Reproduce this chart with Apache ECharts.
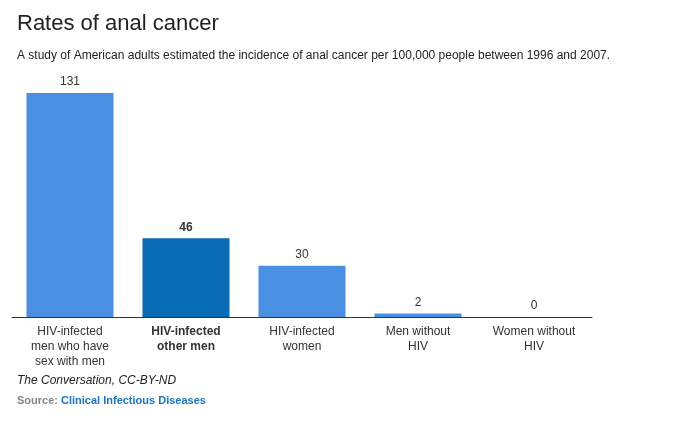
<!DOCTYPE html>
<html><head><meta charset="utf-8">
<script src="https://cdn.jsdelivr.net/npm/echarts@6/dist/echarts.min.js"></script>
<style>body{margin:0;background:#fff}#c{width:685px;height:421px}</style>
</head><body><div id="c"></div>
<script>
const categories = ["HIV-infected\nmen who have\nsex with men","HIV-infected\nother men","HIV-infected\nwomen","Men without\nHIV","Women without\nHIV"];
const values = [131,46,30,2,0];
const highlight = 1;
const chart = echarts.init(document.getElementById('c'));
chart.setOption({
  animation:false,
  textStyle:{fontFamily:'Arial, Liberation Sans, sans-serif'},
  title:[
    {text:'Rates of anal cancer',left:12,top:8,textStyle:{fontSize:22,fontWeight:'normal',color:'#222'}},
    {text:'A study of American adults estimated the incidence of anal cancer per 100,000 people between 1996 and 2007.',left:12,top:45,textStyle:{fontSize:12,fontWeight:'normal',color:'#222'}},
    {text:'The Conversation, CC-BY-ND',left:12,top:370,textStyle:{fontSize:12,fontStyle:'italic',fontWeight:'normal',color:'#222'}},
    {text:'{a|Source: }{b|Clinical Infectious Diseases}',left:12,top:390,textStyle:{rich:{a:{fontSize:11,color:'#888'},b:{fontSize:11,color:'#1a73c8'}}}}
  ],
  grid:{left:12,right:93,top:93,bottom:104},
  xAxis:{type:'category',data:categories,axisTick:{show:false},
    axisLine:{lineStyle:{color:'#333'}},
    axisLabel:{interval:0,fontSize:12,lineHeight:15,color:'#333',margin:7,
      formatter:(v,i)=>i===highlight?v.split('\n').map(s=>'{b|'+s+'}').join('\n'):v,
      rich:{b:{fontWeight:'bold',fontSize:12,lineHeight:15,color:'#333'}}}},
  yAxis:{type:'value',min:0,max:131,show:false,splitLine:{show:false}},
  series:[{type:'bar',barCategoryGap:'25%',
    data:values.map((v,i)=>({value:v,itemStyle:{color:i===highlight?'#076bb6':'#4a90e2'},
      label:{fontWeight:i===highlight?'bold':'normal'}})),
    label:{show:true,position:'top',fontSize:12,color:'#333',distance:5}}]
});
</script></body></html>
